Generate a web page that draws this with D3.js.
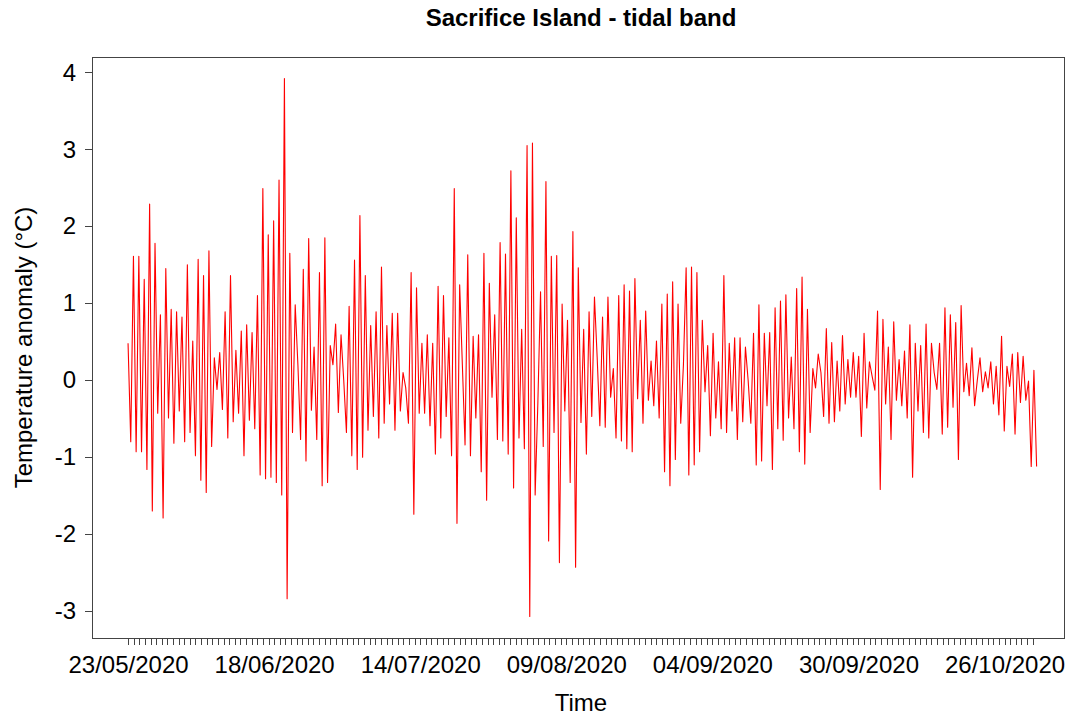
<!DOCTYPE html>
<html>
<head>
<meta charset="utf-8">
<script src="https://cdn.jsdelivr.net/npm/d3@7"></script>
<style>
  body { margin: 0; background: #fff; }
  svg { display: block; }
  text { font-family: "Liberation Sans", Arial, sans-serif; fill: #000; }
</style>
</head>
<body>
<svg id="chart" width="1073" height="719"></svg>
<script>
// Tidal-band temperature anomaly at Sacrifice Island: successive highs and lows
// of the filtered record, evenly spaced between the first and last sample.
const seriesStart = "2020-05-23T00:00:00Z";
const seriesEnd = "2020-10-31T17:00:00Z";
const anomaly = [
  0.48, -0.80, 1.61, -0.93, 1.61, -0.93, 1.31, -1.16, 2.29, -1.70,
  1.78, -0.43, 0.85, -1.79, 1.45, -0.49, 0.92, -0.82, 0.89, -0.40,
  0.82, -0.80, 1.50, -0.68, 0.51, -0.98, 1.57, -1.30, 1.36, -1.46,
  1.68, -0.86, 0.29, -0.12, 0.36, -0.38, 0.89, -0.75, 1.36, -0.54,
  0.39, -0.43, 0.64, -0.98, 0.72, -0.52, 0.62, -0.63, 1.10, -1.23,
  2.49, -1.28, 1.89, -1.26, 2.07, -1.33, 2.60, -1.49, 3.92, -2.84,
  1.65, -0.68, 0.98, 0.20, -0.77, 1.44, -1.05, 1.84, -0.39, 0.43,
  -0.77, 1.40, -1.37, 1.85, -1.33, 0.45, 0.20, 0.73, -0.42, 0.59,
  0.00, -0.68, 0.96, -0.98, 1.56, -1.16, 2.14, -1.00, 1.36, -0.65,
  0.71, -0.47, 0.89, -0.75, 1.47, -0.56, 0.71, -0.31, 0.87, -0.65,
  0.87, -0.40, 0.10, -0.10, -0.56, 1.40, -1.74, 1.20, -0.43, 0.48,
  -0.43, 0.59, -0.59, 0.48, -0.96, 1.22, -0.75, 1.10, -0.47, 0.55,
  -0.98, 2.49, -1.86, 1.24, 0.20, -0.84, 1.63, -0.98, 0.57, -0.49,
  0.59, -1.19, 1.65, -1.56, 1.26, -0.22, 0.85, -0.77, 1.79, -0.79,
  1.64, -0.96, 2.72, -1.40, 2.11, -0.75, 0.66, -0.89, 3.05, -3.07,
  3.08, -1.49, -0.30, 1.15, -0.86, 2.58, -2.09, 1.61, -0.68, 1.62,
  -2.37, 0.99, -0.40, 0.78, -1.33, 1.93, -2.43, 1.46, -0.55, 0.66,
  -0.96, 0.89, -0.47, 1.08, 0.30, -0.59, 0.82, -0.61, 1.08, -0.22,
  0.15, -0.75, 1.10, -0.79, 1.24, -0.89, 1.16, -0.93, 1.32, -0.24,
  0.78, -0.56, 0.90, -0.26, 0.25, -0.33, 0.51, -0.49, 0.99, -1.19,
  1.12, -1.37, 1.28, -1.03, 0.99, -0.56, 0.20, 1.46, -1.23, 1.47,
  -1.10, 1.40, -0.93, 0.78, -0.15, 0.45, -0.72, 0.61, -0.49, 0.24,
  -0.63, 1.36, -0.68, 0.48, -0.40, 0.55, -0.77, 0.55, -0.54, 0.43,
  0.00, -0.56, 0.61, -1.10, 0.98, -1.05, 0.61, -0.33, 0.62, -1.16,
  0.94, -0.63, 1.03, -0.78, 1.11, -0.49, 0.30, -0.63, 1.19, -0.93,
  1.34, -1.09, 0.92, -0.68, 0.15, -0.10, 0.34, 0.10, -0.47, 0.67,
  -0.56, 0.49, -0.54, 0.25, -0.40, 0.58, -0.31, 0.27, -0.22, 0.36,
  -0.22, 0.31, -0.73, 0.61, -0.36, 0.24, 0.05, -0.13, 0.90, -1.42,
  0.79, -0.31, 0.43, -0.77, 0.76, -0.26, 0.27, -0.33, 0.38, -0.49,
  0.72, -1.26, 0.48, -0.40, 0.45, -0.68, 0.73, -0.75, 0.48, 0.10,
  -0.12, 0.48, -0.70, 0.94, -0.61, 0.85, -0.35, 0.75, -1.03, 0.97,
  -0.15, 0.22, -0.20, 0.42, -0.33, 0.00, 0.29, -0.15, 0.11, -0.10,
  0.24, -0.31, 0.18, -0.45, 0.57, -0.66, 0.18, -0.08, 0.34, -0.70,
  0.36, -0.29, 0.31, -0.26, -0.01, -1.12, 0.13, -1.12
];

// Axis settings
const xLimits = ["2020-05-16T14:00:00Z", "2020-11-05T14:00:00Z"];
const tickFirstDay = "2020-05-23T00:00:00Z";
const tickLastDay = "2020-10-31T00:00:00Z";
const xTickLabels = ["23/05/2020", "18/06/2020", "14/07/2020", "09/08/2020",
                     "04/09/2020", "30/09/2020", "26/10/2020"];
const yTickValues = [-3, -2, -1, 0, 1, 2, 3, 4];

const titleText = "Sacrifice Island - tidal band";
const xTitle = "Time";
const yTitle = "Temperature anomaly (\u00B0C)";

// Layout
const plot = { left: 92, right: 1064, top: 57, bottom: 638 };
const axisColor = "#444";

const svg = d3.select("#chart");

const t0 = new Date(seriesStart).getTime();
const t1 = new Date(seriesEnd).getTime();
const dt = (t1 - t0) / (anomaly.length - 1);
const points = anomaly.map((v, i) => ({ t: new Date(t0 + i * dt), v: v }));

const x = d3.scaleUtc()
  .domain(xLimits.map(s => new Date(s)))
  .range([plot.left, plot.right]);

// y limits extended by 4% of the data range on each side
const ext = d3.extent(anomaly);
const pad = (ext[1] - ext[0]) * 0.04;
const y = d3.scaleLinear()
  .domain([ext[0] - pad, ext[1] + pad])
  .range([plot.bottom, plot.top]);

// Series line
const line = d3.line()
  .x(d => x(d.t))
  .y(d => y(d.v));

svg.append("path")
  .datum(points)
  .attr("fill", "none")
  .attr("stroke", "#ff0000")
  .attr("stroke-width", 1.1)
  .attr("stroke-linejoin", "round")
  .attr("d", line);

// X axis: a tick every day, labels on selected dates
const fmt = d3.utcFormat("%d/%m/%Y");
const labelSet = new Set(xTickLabels);
const dayTicks = d3.utcDay.range(new Date(tickFirstDay),
                                 d3.utcDay.offset(new Date(tickLastDay), 1));

const xAxis = d3.axisBottom(x)
  .tickValues(dayTicks)
  .tickSize(7)
  .tickPadding(11)
  .tickFormat(d => labelSet.has(fmt(d)) ? fmt(d) : "");

const gx = svg.append("g")
  .attr("transform", `translate(0,${plot.bottom})`)
  .call(xAxis);
gx.select(".domain").remove();
gx.selectAll(".tick line").attr("stroke", axisColor).attr("shape-rendering", "crispEdges");
gx.selectAll(".tick text")
  .style("font-family", "'Liberation Sans', Arial, sans-serif")
  .style("font-size", "24px")
  .attr("fill", "#000");

// Y axis (plain hyphen for negative values)
const yAxis = d3.axisLeft(y)
  .tickValues(yTickValues)
  .tickSize(7)
  .tickPadding(9)
  .tickFormat(d => String(d));

const gy = svg.append("g")
  .attr("transform", `translate(${plot.left},0)`)
  .call(yAxis);
gy.select(".domain").remove();
gy.selectAll(".tick line").attr("stroke", axisColor).attr("shape-rendering", "crispEdges");
gy.selectAll(".tick text")
  .style("font-family", "'Liberation Sans', Arial, sans-serif")
  .style("font-size", "24px")
  .attr("fill", "#000");

// Plot frame
svg.append("rect")
  .attr("x", plot.left + 0.5)
  .attr("y", plot.top + 0.5)
  .attr("width", plot.right - plot.left)
  .attr("height", plot.bottom - plot.top)
  .attr("fill", "none")
  .attr("stroke", axisColor)
  .attr("stroke-width", 1);

// Titles
svg.append("text")
  .attr("x", 581)
  .attr("y", 26)
  .attr("text-anchor", "middle")
  .style("font-size", "24px")
  .style("font-weight", "bold")
  .text(titleText);

svg.append("text")
  .attr("x", 581)
  .attr("y", 711)
  .attr("text-anchor", "middle")
  .style("font-size", "24px")
  .text(xTitle);

svg.append("text")
  .attr("transform", `translate(32,${(plot.top + plot.bottom) / 2}) rotate(-90)`)
  .attr("text-anchor", "middle")
  .style("font-size", "24px")
  .text(yTitle);
</script>
</body>
</html>
